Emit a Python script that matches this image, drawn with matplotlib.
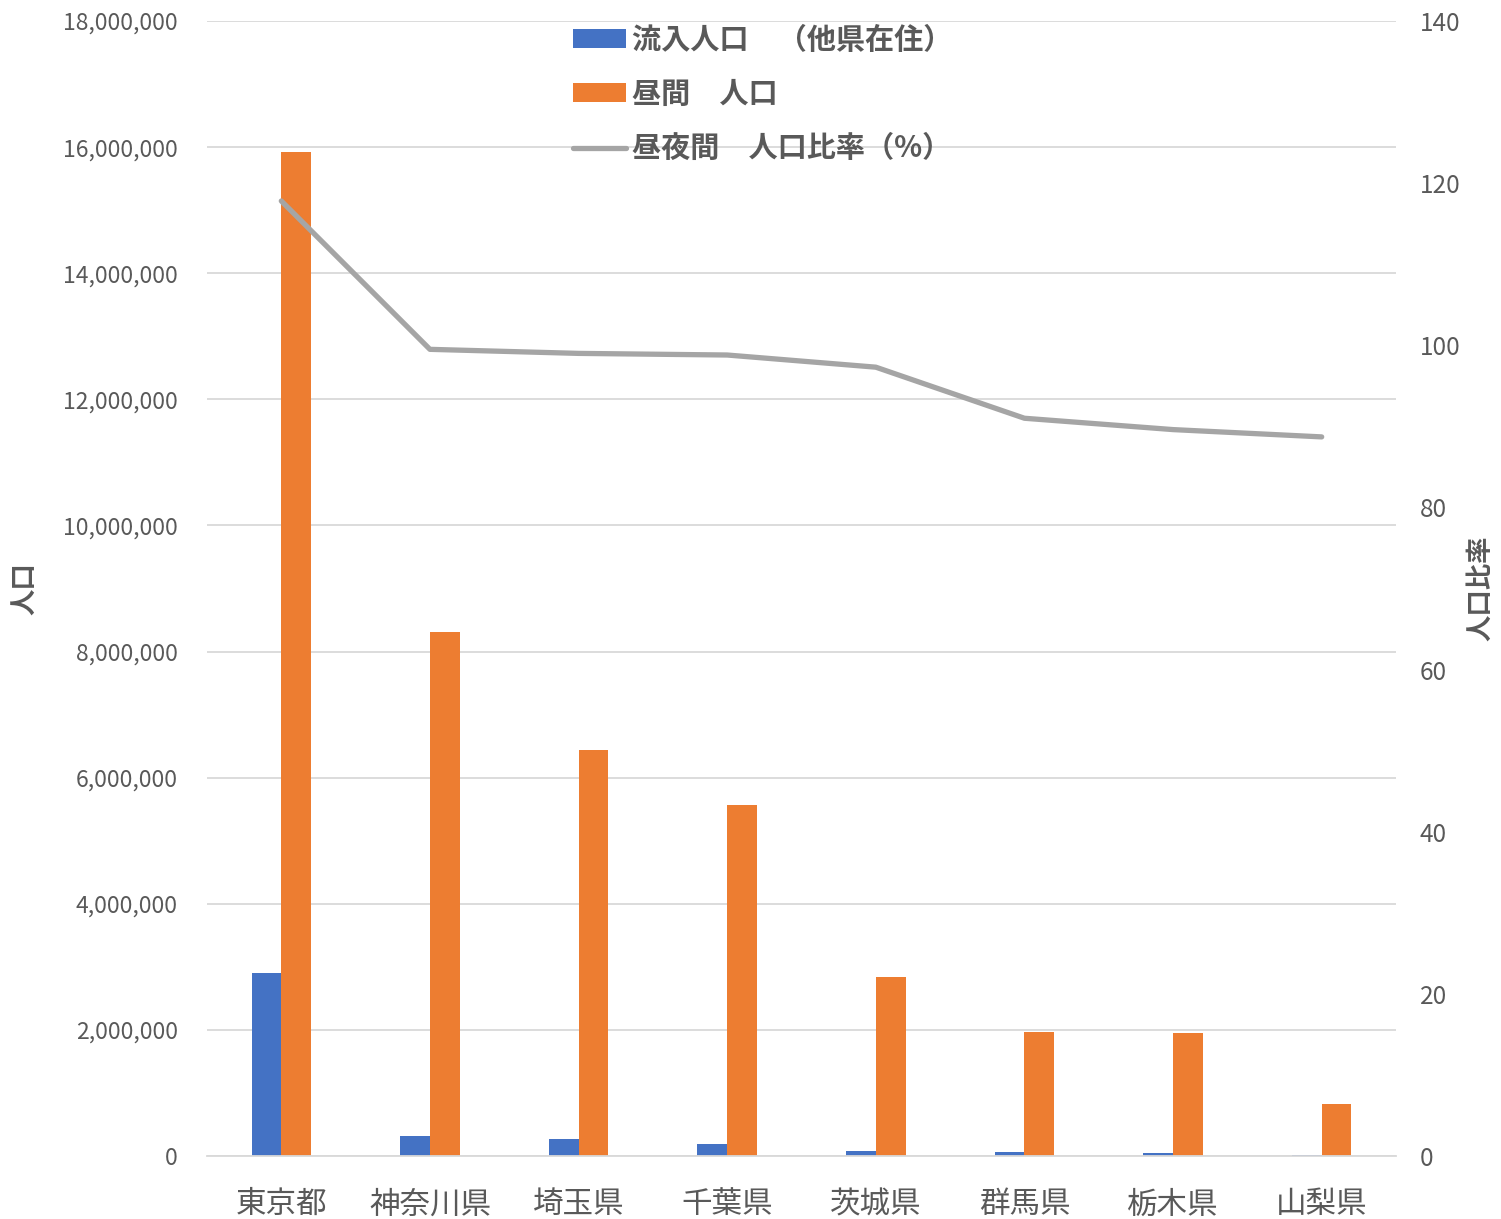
import matplotlib
matplotlib.use("Agg")
import matplotlib.pyplot as plt
import numpy as np
from matplotlib.ticker import FuncFormatter

plt.rcParams["font.family"] = ["Noto Sans CJK JP", "DejaVu Sans"]

prefectures = ["東京都", "神奈川県", "埼玉県", "千葉県", "茨城県", "群馬県", "栃木県", "山梨県"]
inflow_pop = [2900000, 320000, 270000, 190000, 80000, 60000, 50000, 10000]
daytime_pop = [15920000, 8310000, 6440000, 5570000, 2840000, 1970000, 1950000, 820000]
day_night_ratio = [117.8, 99.5, 99.0, 98.8, 97.3, 91.0, 89.6, 88.7]

BLUE = "#4472c4"
ORANGE = "#ed7d31"
GRAY = "#a5a5a5"
TEXT = "#595959"
GRID = "#d9d9d9"

fig = plt.figure(figsize=(15.01, 12.19), dpi=100)
ax = fig.add_axes([207 / 1501, 63 / 1219, 1189 / 1501, 1135 / 1219])
ax2 = ax.twinx()

x = np.arange(len(prefectures))
width = 0.2
b1 = ax.bar(x - width / 2, inflow_pop, width, color=BLUE, label="流入人口　（他県在住）")
b2 = ax.bar(x + width / 2, daytime_pop, width, color=ORANGE, label="昼間　人口")
(l1,) = ax2.plot(x, day_night_ratio, color=GRAY, lw=3.8, solid_capstyle="round",
                 label="昼夜間　人口比率（%）")

ax.set_xlim(-0.5, len(prefectures) - 0.5)
ax.set_ylim(0, 18000000)
ax.set_yticks(np.arange(0, 18000001, 2000000))
ax.yaxis.set_major_formatter(FuncFormatter(lambda v, p: f"{int(v):,}"))
ax2.set_ylim(0, 140)
ax2.set_yticks(np.arange(0, 141, 20))

ax.set_xticks(x)
ax.set_xticklabels(prefectures)
ax.grid(axis="y", color=GRID, lw=1.3)
ax.set_axisbelow(True)

for a in (ax, ax2):
    for s in a.spines.values():
        s.set_visible(False)
    a.tick_params(length=0, labelsize=16.5, labelcolor=TEXT)
ax.spines["bottom"].set_visible(True)
ax.spines["bottom"].set_color(GRID)
ax.spines["bottom"].set_linewidth(1.3)
ax.tick_params(axis="x", labelsize=22, pad=24)
ax.tick_params(axis="y", pad=21)
ax2.tick_params(axis="y", labelsize=17.5, pad=17)

ax.set_ylabel("人口", fontsize=19, fontweight="bold", color=TEXT)
ax.yaxis.set_label_coords(-0.142, 0.5)
ax2.set_ylabel("人口比率", fontsize=19, fontweight="bold", color=TEXT, rotation=90)
ax2.yaxis.set_label_coords(1.0597, 0.5)

fig.legend(handles=[b1, b2, l1], loc="upper left", bbox_to_anchor=(573 / 1501, 1 - 25 / 1219),
           frameon=False, prop={"weight": "bold", "size": 21},
           borderpad=0, borderaxespad=0,
           handlelength=1.83, handleheight=0.62, handletextpad=0.2, labelspacing=0.83,
           labelcolor=TEXT)

fig.savefig("out.png", dpi=100)
